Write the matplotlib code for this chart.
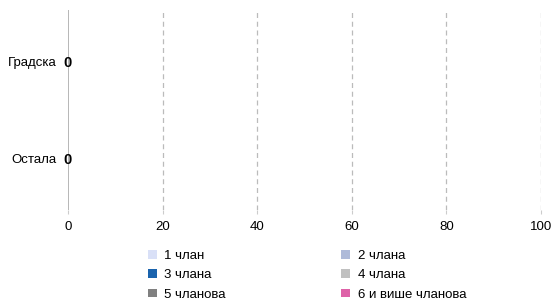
import numpy as np
import matplotlib
matplotlib.use("Agg")
import matplotlib.pyplot as plt
from matplotlib.patches import Patch

plt.rcParams['font.family'] = ['Liberation Sans', 'DejaVu Sans']

categories = ['Градска', 'Остала']
series_names = ['1 члан', '2 члана', '3 члана', '4 члана', '5 чланова', '6 и више чланова']
series_colors = ['#d9e0f7', '#aebad9', '#1a63ad', '#c0c0c0', '#808080', '#de62a8']
values = [
    [0, 0],  # 1 член
    [0, 0],  # 2 члана
    [0, 0],  # 3 члана
    [0, 0],  # 4 члана
    [0, 0],  # 5 чланова
    [0, 0],  # 6 и више
]
xticks = [0, 20, 40, 60, 80, 100]

fs = 9.5
fig = plt.figure(figsize=(5.55, 3.02), dpi=100)
ax = fig.add_axes([68 / 555, 1 - 210 / 302, (541 - 68) / 555, 200 / 302])

y = np.arange(len(categories))
left = np.zeros(len(categories))
for name, col, vals in zip(series_names, series_colors, values):
    vals = np.array(vals, dtype=float)
    ax.barh(y, vals, left=left, color=col, height=0.6, label=name)
    for i, v in enumerate(vals):
        if v > 0:
            ax.text(left[i] + v / 2, y[i], f'{v:g}', ha='center', va='center_baseline',
                    fontsize=fs, fontweight='bold')
    left += vals

# totals of zero still get a single label at the axis
for i, tot in enumerate(left):
    if tot == 0:
        ax.text(0, y[i], '0', ha='center', va='center_baseline', fontsize=10.5,
                fontweight='bold', color='#000000', zorder=5)

ax.set_xlim(0, 100)
ax.set_ylim(1.53, -0.53)
ax.set_yticks(y)
ax.set_yticklabels(categories, fontsize=fs)
ax.set_xticks(xticks)
ax.set_xticklabels([str(t) for t in xticks], fontsize=fs)
ax.tick_params(axis='y', length=0, pad=8)
ax.tick_params(axis='x', length=3, color='#cccccc', pad=5)

for t in xticks[1:]:
    ax.axvline(t, color='#bbbbbb', linestyle=(0, (4, 3)), linewidth=0.9, zorder=0)
ax.axvline(0, color='#aaaaaa', linewidth=1.2, zorder=1)

for s in ax.spines.values():
    s.set_visible(False)

handles = [Patch(facecolor=c, edgecolor='none') for c in series_colors]
order = [0, 2, 4, 1, 3, 5]
fig.legend([handles[i] for i in order], [series_names[i] for i in order],
           ncol=2, loc='upper left', bbox_to_anchor=(148 / 555, 1 - 250 / 302),
           frameon=False, fontsize=fs, handlelength=0.65, handleheight=0.65,
           handletextpad=0.6, columnspacing=8.75, labelspacing=0.55,
           borderaxespad=0, borderpad=0)

fig.savefig('out.png', dpi=100)
